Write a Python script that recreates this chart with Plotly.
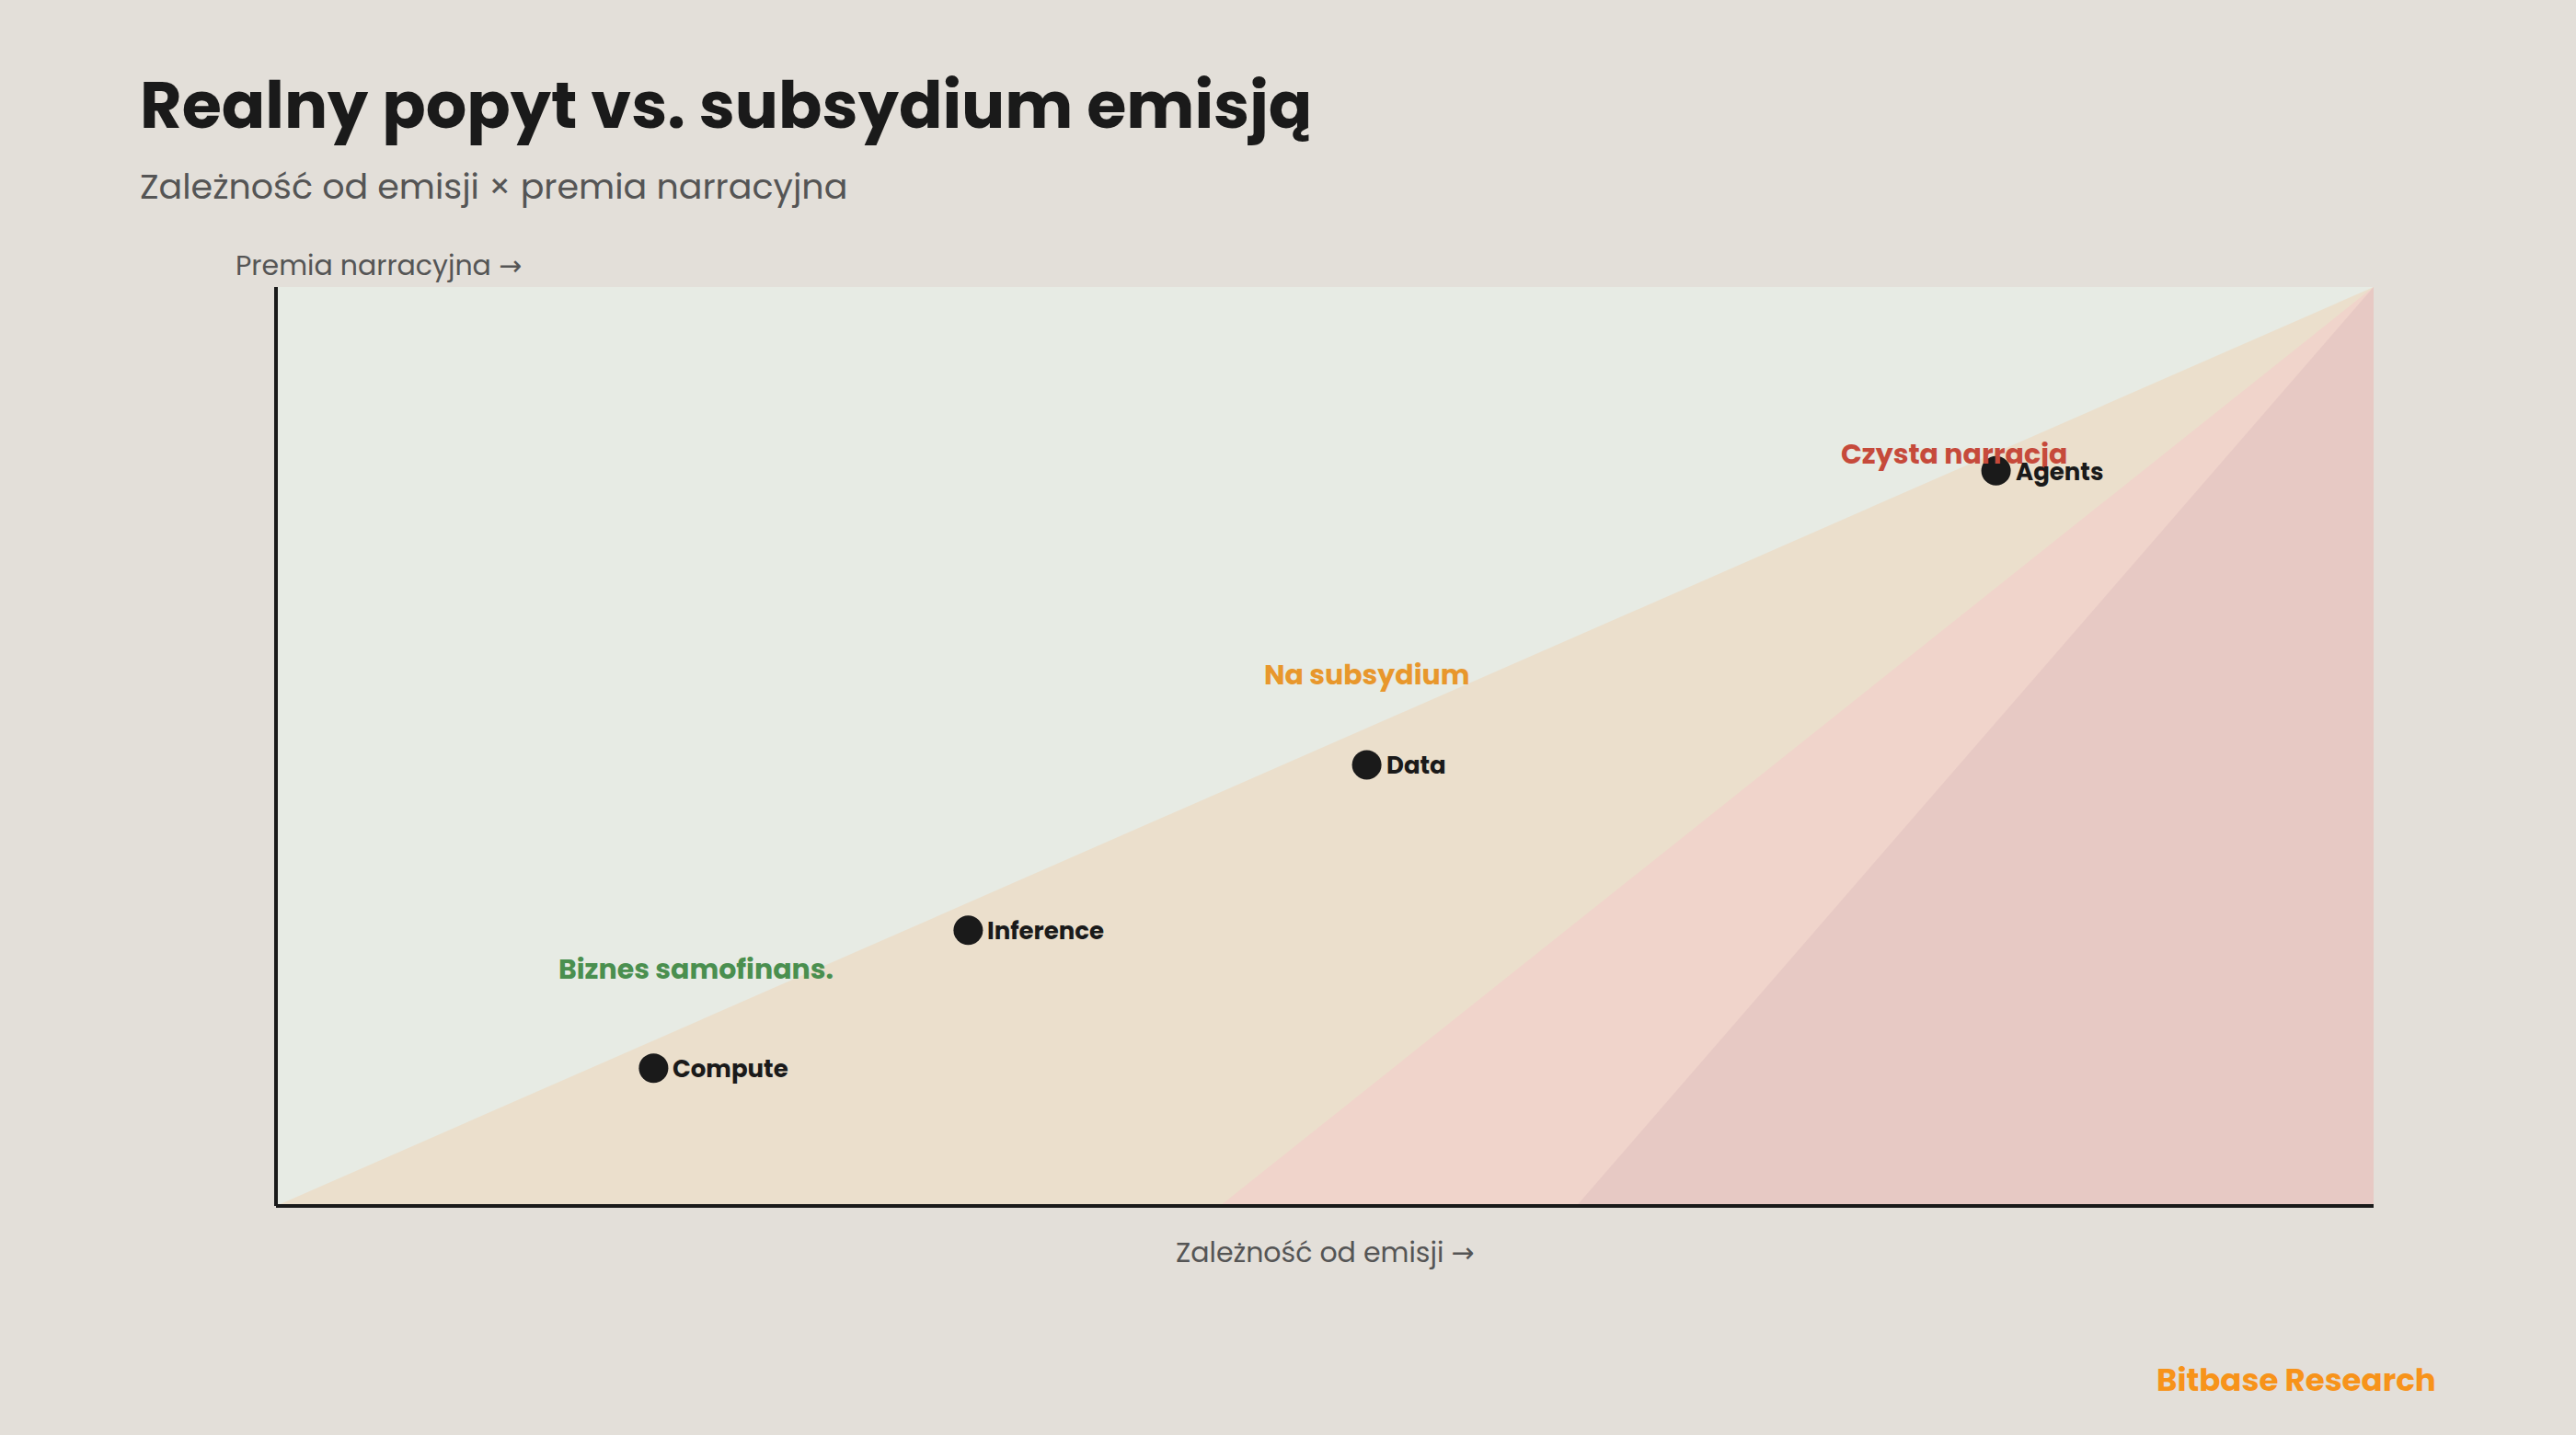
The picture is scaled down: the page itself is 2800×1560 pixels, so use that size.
import plotly.graph_objects as go

# ---- data ----
categories = ["Compute", "Inference", "Data", "Agents"]
emission_dependence = [18, 33, 52, 82]
narrative_premium = [15, 30, 48, 80]

zone_names = ["Biznes samofinans.", "Na subsydium", "Czysta narracja"]
zone_label_x = [20, 52, 80]
zone_label_y = [25.8, 57.8, 81.8]
zone_colors = ["#4a8f4f", "#e8972c", "#c64a3b"]

# zone boundaries: bottom x-intercept of each band (all meet at top-right corner)
band_start_x = [0, 45, 62]
band_fill = ["#ebdfcc", "#f0d4cb", "#e7c9c4"]

FONT = "Poppins, 'Open Sans', sans-serif"
ARROW = '<span style="font-family:\'DejaVu Sans\'">→</span>'
BG = "#e3dfd9"

fig = go.Figure()

# background bands
for x0, col in zip(band_start_x, band_fill):
    fig.add_trace(go.Scatter(
        x=[x0, 100, 100, x0], y=[0, 100, 0, 0],
        fill="toself", fillcolor=col, mode="lines",
        line=dict(width=0), hoverinfo="skip", showlegend=False))

# points
fig.add_trace(go.Scatter(
    x=emission_dependence, y=narrative_premium, text=categories,
    mode="markers", marker=dict(size=32, color="#1a1a1a"),
    showlegend=False, cliponaxis=False, hoverinfo="text"))

annotations = []
for name, x, y, c in zip(zone_names, zone_label_x, zone_label_y, zone_colors):
    annotations.append(dict(x=x, y=y, xref="x", yref="y", text=name, showarrow=False,
                            xanchor="center", yanchor="middle",
                            font=dict(family=FONT, size=30, color=c, weight=700)))

# point labels
for name, x, y in zip(categories, emission_dependence, narrative_premium):
    annotations.append(dict(x=x, y=y, xref="x", yref="y", text=name, showarrow=False,
                            xanchor="left", yanchor="middle", xshift=19, yshift=-1,
                            font=dict(family=FONT, size=26, color="#1a1a1a", weight=700)))

def px_to_paper_x(px):
    return (px - 300) / 2280

def px_to_paper_y(py):
    return (1311 - py) / 999

annotations += [
    dict(x=px_to_paper_x(150), y=px_to_paper_y(115), xref="paper", yref="paper",
         text="Realny popyt vs. subsydium emisją", showarrow=False,
         xanchor="left", yanchor="middle",
         font=dict(family=FONT, size=70, color="#1a1a1a", weight=700)),
    dict(x=px_to_paper_x(150), y=px_to_paper_y(202), xref="paper", yref="paper",
         text="Zależność od emisji × premia narracyjna", showarrow=False,
         xanchor="left", yanchor="middle",
         font=dict(family=FONT, size=38, color="#555555")),
    dict(x=px_to_paper_x(254), y=px_to_paper_y(288), xref="paper", yref="paper",
         text="Premia narracyjna " + ARROW, showarrow=False,
         xanchor="left", yanchor="middle",
         font=dict(family=FONT, size=30, color="#555555")),
    dict(x=0.5, y=px_to_paper_y(1361), xref="paper", yref="paper",
         text="Zależność od emisji " + ARROW, showarrow=False,
         xanchor="center", yanchor="middle",
         font=dict(family=FONT, size=30, color="#555555")),
    dict(x=px_to_paper_x(2650), y=px_to_paper_y(1500), xref="paper", yref="paper",
         text="Bitbase Research", showarrow=False,
         xanchor="right", yanchor="middle",
         font=dict(family=FONT, size=34, color="#f7931a", weight=700)),
]

shapes = [
    dict(type="line", xref="paper", yref="paper", x0=0, x1=0, y0=0, y1=1,
         line=dict(color="#1a1a1a", width=4), layer="above"),
    dict(type="line", xref="paper", yref="paper", x0=0, x1=1, y0=0, y1=0,
         line=dict(color="#1a1a1a", width=4), layer="above"),
]

fig.update_layout(
    width=2800, height=1560,
    margin=dict(l=300, r=220, t=312, b=249, pad=0),
    paper_bgcolor=BG, plot_bgcolor="#e7ebe4",
    annotations=annotations, shapes=shapes,
    xaxis=dict(range=[0, 100], showgrid=False, zeroline=False, showticklabels=False,
               ticks="", showline=False),
    yaxis=dict(range=[0, 100], showgrid=False, zeroline=False, showticklabels=False,
               ticks="", showline=False),
)

fig.write_html("out.html")
